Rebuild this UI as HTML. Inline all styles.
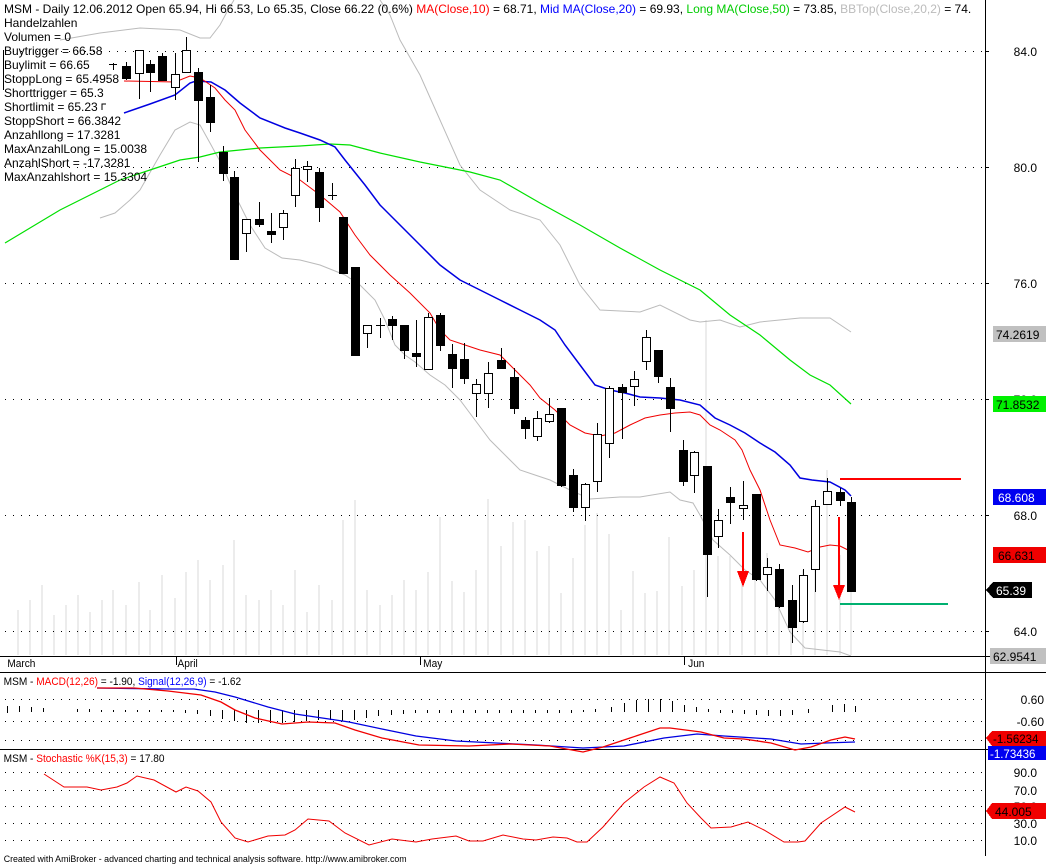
<!DOCTYPE html>
<html><head><meta charset="utf-8"><style>
html,body{margin:0;padding:0;background:#fff;}
svg{display:block;font-family:"Liberation Sans",sans-serif;}
</style></head><body>
<svg width="1046" height="865" viewBox="0 0 1046 865" xmlns="http://www.w3.org/2000/svg" shape-rendering="crispEdges">
<rect width="1046" height="865" fill="#fff"/>
<g fill="#ececec">
<rect x="17" y="610" width="2" height="45"/><rect x="29" y="600" width="2" height="55"/><rect x="41" y="585" width="2" height="70"/><rect x="53" y="615" width="2" height="40"/><rect x="65" y="605" width="2" height="50"/><rect x="77" y="595" width="2" height="60"/><rect x="89" y="612" width="2" height="43"/><rect x="101" y="600" width="2" height="55"/><rect x="112" y="590" width="2" height="65"/><rect x="125" y="605" width="2" height="50"/><rect x="138" y="582" width="2" height="73"/><rect x="149" y="610" width="2" height="45"/><rect x="161" y="575" width="2" height="80"/><rect x="174" y="598" width="2" height="57"/><rect x="185" y="572" width="2" height="83"/><rect x="197" y="560" width="2" height="95"/><rect x="209" y="580" width="2" height="75"/><rect x="222" y="565" width="2" height="90"/><rect x="233" y="540" width="2" height="115"/><rect x="245" y="595" width="2" height="60"/><rect x="258" y="600" width="2" height="55"/><rect x="270" y="590" width="2" height="65"/><rect x="282" y="605" width="2" height="50"/><rect x="294" y="570" width="2" height="85"/><rect x="306" y="612" width="2" height="43"/><rect x="318" y="585" width="2" height="70"/><rect x="331" y="600" width="2" height="55"/><rect x="342" y="520" width="2" height="135"/><rect x="354" y="500" width="2" height="155"/><rect x="366" y="590" width="2" height="65"/><rect x="379" y="605" width="2" height="50"/><rect x="391" y="595" width="2" height="60"/><rect x="403" y="580" width="2" height="75"/><rect x="415" y="590" width="2" height="65"/><rect x="427" y="572" width="2" height="83"/><rect x="439" y="517" width="2" height="138"/><rect x="451" y="581" width="2" height="74"/><rect x="463" y="592" width="2" height="63"/><rect x="475" y="570" width="2" height="85"/><rect x="487" y="499" width="2" height="156"/><rect x="500" y="546" width="2" height="109"/><rect x="512" y="522" width="2" height="133"/><rect x="524" y="520" width="2" height="135"/><rect x="536" y="551" width="2" height="104"/><rect x="548" y="546" width="2" height="109"/><rect x="560" y="593" width="2" height="62"/><rect x="572" y="558" width="2" height="97"/><rect x="584" y="525" width="2" height="130"/><rect x="596" y="513" width="2" height="142"/><rect x="608" y="534" width="2" height="121"/><rect x="620" y="610" width="2" height="45"/><rect x="632" y="571" width="2" height="84"/><rect x="644" y="593" width="2" height="62"/><rect x="656" y="591" width="2" height="64"/><rect x="668" y="537" width="2" height="118"/><rect x="681" y="586" width="2" height="69"/><rect x="693" y="570" width="2" height="85"/><rect x="705" y="320" width="2" height="335"/><rect x="717" y="556" width="2" height="99"/><rect x="729" y="556" width="2" height="99"/><rect x="741" y="580" width="2" height="75"/><rect x="754" y="560" width="2" height="95"/><rect x="766" y="553" width="2" height="102"/><rect x="778" y="582" width="2" height="73"/><rect x="790" y="600" width="2" height="55"/><rect x="802" y="570" width="2" height="85"/><rect x="814" y="560" width="2" height="95"/><rect x="826" y="470" width="2" height="185"/><rect x="839" y="555" width="2" height="100"/><rect x="850" y="550" width="2" height="105"/>
</g>
<g stroke="#000" stroke-dasharray="1 7" stroke-width="1">
<line x1="5" y1="51.5" x2="985" y2="51.5"/><line x1="5" y1="167.5" x2="985" y2="167.5"/><line x1="5" y1="283.5" x2="985" y2="283.5"/><line x1="5" y1="399.5" x2="985" y2="399.5"/><line x1="5" y1="515.5" x2="985" y2="515.5"/><line x1="5" y1="631.5" x2="985" y2="631.5"/>
<line x1="5" y1="699.5" x2="985" y2="699.5"/><line x1="5" y1="721.5" x2="985" y2="721.5"/><line x1="5" y1="740.5" x2="985" y2="740.5"/>
<line x1="5" y1="772.5" x2="985" y2="772.5"/><line x1="5" y1="790.5" x2="985" y2="790.5"/><line x1="5" y1="806.5" x2="985" y2="806.5"/><line x1="5" y1="823.5" x2="985" y2="823.5"/><line x1="5" y1="840.5" x2="985" y2="840.5"/>
</g>
<g fill="none" shape-rendering="auto">
<polyline stroke="#bbb" points="60,40 100,33 140,28 180,30 200,38 210,38 220,25 228,10 234,0"/>
<polyline stroke="#bbb" points="380,0 390,15 400,40 420,75 440,120 460,165 480,190 510,210 540,220 560,245 580,285 600,310 640,312 660,305 690,320 700,322 720,320 740,327 760,322 800,318 830,318 851,332"/>
<polyline stroke="#bbb" points="100,218 115,213 130,200 140,190 160,155 175,130 190,122 200,125 210,143 222,165 235,195 250,225 265,248 282,258 300,260 320,265 345,275 360,285 375,300 385,320 395,345 405,355 415,362 430,375 445,385 460,400 475,420 490,440 505,455 520,470 535,475 550,480 570,490 590,499 620,497 640,497 670,492 680,500 693,503 700,515 713,540 730,555 745,570 760,580 775,600 790,632 805,648 840,652 851,656"/>
<polyline stroke="#00e000" stroke-width="1.2" points="5,243 30,228 60,210 100,190 120,180 150,170 180,160 200,157 220,152 260,148 300,146 330,144 350,145 380,153 420,162 470,172 500,180 540,203 580,225 620,248 660,270 700,290 730,315 760,335 790,360 810,375 830,385 851,404"/>
<polyline stroke="#0000e0" stroke-width="1.5" points="124,113 150,104 175,95 190,83 196,81 211,82 225,90 240,103 260,118 285,128 300,133 320,140 335,147 345,160 365,185 380,205 400,225 420,245 440,265 460,280 480,290 500,300 520,310 540,320 555,330 565,345 580,365 595,385 610,390 625,393 640,397 660,398 680,400 700,405 715,418 730,425 745,433 760,443 775,452 790,465 800,478 812,480 830,482 845,490 851,496"/>
<polyline stroke="#f00000" points="124,81 175,82 190,76 200,78 215,88 225,100 235,110 245,130 260,150 280,170 300,180 320,195 340,212 355,235 370,255 390,275 410,293 430,313 440,330 450,340 465,345 480,350 500,355 515,370 530,385 540,398 555,410 570,425 585,433 600,436 615,433 630,425 645,418 660,415 675,413 690,412 700,415 710,425 720,430 735,440 742,450 750,470 760,490 770,520 780,545 795,548 808,552 820,547 830,545 840,546 848,550"/>
</g>
<g stroke="#000" stroke-width="1">
<line x1="109" y1="64.5" x2="117" y2="64.5"/><line x1="113.5" y1="63" x2="113.5" y2="70"/>
<line x1="126.5" y1="62" x2="126.5" y2="80"/><rect x="122.5" y="66.5" width="8" height="12" fill="#000"/>
<line x1="139.5" y1="50" x2="139.5" y2="99"/><rect x="135.5" y="50.5" width="8" height="23" fill="#fff"/>
<line x1="150.5" y1="60" x2="150.5" y2="92"/><rect x="146.5" y="64.5" width="8" height="8" fill="#000"/>
<line x1="162.5" y1="53" x2="162.5" y2="80"/><rect x="158.5" y="56.5" width="8" height="24" fill="#000"/>
<line x1="175.5" y1="53" x2="175.5" y2="100"/><rect x="171.5" y="74.5" width="8" height="13" fill="#fff"/>
<line x1="186.5" y1="37" x2="186.5" y2="72"/><rect x="182.5" y="50.5" width="8" height="22" fill="#fff"/>
<line x1="198.5" y1="68" x2="198.5" y2="162"/><rect x="194.5" y="72.5" width="8" height="28" fill="#000"/>
<line x1="210.5" y1="85" x2="210.5" y2="132"/><rect x="206.5" y="97.5" width="8" height="25" fill="#000"/>
<line x1="223.5" y1="146" x2="223.5" y2="181"/><rect x="219.5" y="152.5" width="8" height="21" fill="#000"/>
<line x1="234.5" y1="171" x2="234.5" y2="259"/><rect x="230.5" y="177.5" width="8" height="82" fill="#000"/>
<line x1="246.5" y1="219" x2="246.5" y2="252"/><rect x="242.5" y="219.5" width="8" height="14" fill="#fff"/>
<line x1="259.5" y1="202" x2="259.5" y2="227"/><rect x="255.5" y="219.5" width="8" height="5" fill="#000"/>
<line x1="271.5" y1="213" x2="271.5" y2="243"/><rect x="267.5" y="231.5" width="8" height="3" fill="#000"/>
<line x1="283.5" y1="210" x2="283.5" y2="240"/><rect x="279.5" y="213.5" width="8" height="14" fill="#fff"/>
<line x1="295.5" y1="159" x2="295.5" y2="207"/><rect x="291.5" y="168.5" width="8" height="27" fill="#fff"/>
<line x1="307.5" y1="161" x2="307.5" y2="182"/><rect x="303.5" y="166.5" width="8" height="3" fill="#fff"/>
<line x1="319.5" y1="168" x2="319.5" y2="222"/><rect x="315.5" y="172.5" width="8" height="35" fill="#000"/>
<line x1="332.5" y1="183" x2="332.5" y2="200"/><line x1="328" y1="195.5" x2="337" y2="195.5"/>
<line x1="343.5" y1="217" x2="343.5" y2="273"/><rect x="339.5" y="217.5" width="8" height="56" fill="#000"/>
<line x1="355.5" y1="267" x2="355.5" y2="355"/><rect x="351.5" y="267.5" width="8" height="88" fill="#000"/>
<line x1="367.5" y1="325" x2="367.5" y2="348"/><rect x="363.5" y="325.5" width="8" height="8" fill="#fff"/>
<line x1="380.5" y1="318" x2="380.5" y2="338"/><line x1="376" y1="325.5" x2="385" y2="325.5"/>
<line x1="392.5" y1="316" x2="392.5" y2="340"/><rect x="388.5" y="319.5" width="8" height="6" fill="#000"/>
<line x1="404.5" y1="325" x2="404.5" y2="359"/><rect x="400.5" y="325.5" width="8" height="25" fill="#000"/>
<line x1="416.5" y1="320" x2="416.5" y2="367"/><rect x="412.5" y="353.5" width="8" height="3" fill="#000"/>
<line x1="428.5" y1="313" x2="428.5" y2="369"/><rect x="424.5" y="317.5" width="8" height="52" fill="#fff"/>
<line x1="440.5" y1="313" x2="440.5" y2="351"/><rect x="436.5" y="315.5" width="8" height="30" fill="#000"/>
<line x1="452.5" y1="344" x2="452.5" y2="388"/><rect x="448.5" y="354.5" width="8" height="14" fill="#000"/>
<line x1="464.5" y1="343" x2="464.5" y2="384"/><rect x="460.5" y="359.5" width="8" height="19" fill="#000"/>
<line x1="476.5" y1="379" x2="476.5" y2="417"/><rect x="472.5" y="384.5" width="8" height="9" fill="#fff"/>
<line x1="488.5" y1="362" x2="488.5" y2="408"/><rect x="484.5" y="373.5" width="8" height="20" fill="#fff"/>
<line x1="501.5" y1="348" x2="501.5" y2="368"/><rect x="497.5" y="360.5" width="8" height="8" fill="#000"/>
<line x1="514.5" y1="368" x2="514.5" y2="414"/><rect x="510.5" y="377.5" width="8" height="31" fill="#000"/>
<line x1="525.5" y1="417" x2="525.5" y2="439"/><rect x="521.5" y="420.5" width="8" height="8" fill="#000"/>
<line x1="537.5" y1="411" x2="537.5" y2="441"/><rect x="533.5" y="418.5" width="8" height="18" fill="#fff"/>
<line x1="549.5" y1="398" x2="549.5" y2="423"/><rect x="545.5" y="414.5" width="8" height="7" fill="#fff"/>
<line x1="561.5" y1="408" x2="561.5" y2="487"/><rect x="557.5" y="408.5" width="8" height="77" fill="#000"/>
<line x1="573.5" y1="469" x2="573.5" y2="512"/><rect x="569.5" y="475.5" width="8" height="32" fill="#000"/>
<line x1="585.5" y1="483" x2="585.5" y2="521"/><rect x="581.5" y="484.5" width="8" height="23" fill="#fff"/>
<line x1="597.5" y1="423" x2="597.5" y2="492"/><rect x="593.5" y="434.5" width="8" height="47" fill="#fff"/>
<line x1="609.5" y1="386" x2="609.5" y2="458"/><rect x="605.5" y="388.5" width="8" height="55" fill="#fff"/>
<line x1="622.5" y1="384" x2="622.5" y2="439"/><rect x="618.5" y="387.5" width="8" height="5" fill="#000"/>
<line x1="634.5" y1="371" x2="634.5" y2="406"/><rect x="630.5" y="379.5" width="8" height="7" fill="#fff"/>
<line x1="646.5" y1="330" x2="646.5" y2="370"/><rect x="642.5" y="337.5" width="8" height="24" fill="#fff"/>
<line x1="658.5" y1="350" x2="658.5" y2="383"/><rect x="654.5" y="350.5" width="8" height="26" fill="#000"/>
<line x1="670.5" y1="378" x2="670.5" y2="432"/><rect x="666.5" y="387.5" width="8" height="21" fill="#000"/>
<line x1="683.5" y1="440" x2="683.5" y2="486"/><rect x="679.5" y="450.5" width="8" height="31" fill="#000"/>
<line x1="694.5" y1="451" x2="694.5" y2="493"/><rect x="690.5" y="452.5" width="8" height="23" fill="#fff"/>
<line x1="707.5" y1="466" x2="707.5" y2="597"/><rect x="703.5" y="466.5" width="8" height="88" fill="#000"/>
<line x1="718.5" y1="509" x2="718.5" y2="548"/><rect x="714.5" y="520.5" width="8" height="16" fill="#fff"/>
<line x1="730.5" y1="487" x2="730.5" y2="524"/><rect x="726.5" y="497.5" width="8" height="5" fill="#000"/>
<line x1="743.5" y1="481" x2="743.5" y2="520"/><rect x="739.5" y="505.5" width="8" height="3" fill="#fff"/>
<line x1="756.5" y1="494" x2="756.5" y2="581"/><rect x="752.5" y="494.5" width="8" height="85" fill="#000"/>
<line x1="767.5" y1="558" x2="767.5" y2="591"/><rect x="763.5" y="567.5" width="8" height="7" fill="#fff"/>
<line x1="779.5" y1="564" x2="779.5" y2="608"/><rect x="775.5" y="569.5" width="8" height="37" fill="#000"/>
<line x1="792.5" y1="585" x2="792.5" y2="643"/><rect x="788.5" y="600.5" width="8" height="27" fill="#000"/>
<line x1="803.5" y1="569" x2="803.5" y2="623"/><rect x="799.5" y="575.5" width="8" height="46" fill="#fff"/>
<line x1="815.5" y1="500" x2="815.5" y2="592"/><rect x="811.5" y="506.5" width="8" height="63" fill="#fff"/>
<line x1="827.5" y1="478" x2="827.5" y2="504"/><rect x="823.5" y="491.5" width="8" height="13" fill="#fff"/>
<line x1="840.5" y1="488" x2="840.5" y2="506"/><rect x="836.5" y="492.5" width="8" height="8" fill="#000"/>
<line x1="851.5" y1="497" x2="851.5" y2="592"/><rect x="847.5" y="502.5" width="8" height="89" fill="#000"/>
</g>
<rect x="840" y="478" width="121" height="2" fill="#f00"/>
<rect x="840" y="603" width="108" height="2" fill="#00b070"/>
<rect x="742" y="532" width="2" height="42" fill="#f00"/>
<polygon points="737,571 749,571 743,587" fill="#f00"/>
<rect x="838" y="517" width="2" height="68" fill="#f00"/>
<polygon points="833,585 845,585 839,600" fill="#f00"/>
<line x1="3.5" y1="50" x2="3.5" y2="90" stroke="#000"/>
<g stroke="#000" stroke-width="1">
<line x1="985.5" y1="0" x2="985.5" y2="856"/>
<line x1="0" y1="656.5" x2="1046" y2="656.5"/>
<line x1="0" y1="672.5" x2="1046" y2="672.5"/>
<line x1="0" y1="749.5" x2="1046" y2="749.5"/>
<line x1="985" y1="51.5" x2="989" y2="51.5"/><line x1="985" y1="167.5" x2="989" y2="167.5"/><line x1="985" y1="283.5" x2="989" y2="283.5"/><line x1="985" y1="399.5" x2="989" y2="399.5"/><line x1="985" y1="515.5" x2="989" y2="515.5"/><line x1="985" y1="631.5" x2="989" y2="631.5"/>
<line x1="176.5" y1="656" x2="176.5" y2="665"/><line x1="420.5" y1="656" x2="420.5" y2="665"/><line x1="684.5" y1="656" x2="684.5" y2="665"/>
</g>
<g stroke="#000">
<line x1="7.5" y1="706" x2="7.5" y2="713"/><line x1="19.5" y1="706" x2="19.5" y2="712"/><line x1="31.5" y1="707" x2="31.5" y2="712"/><line x1="43.5" y1="708" x2="43.5" y2="712"/><line x1="77.5" y1="709" x2="77.5" y2="712"/><line x1="89.5" y1="709" x2="89.5" y2="712"/><line x1="101.5" y1="710" x2="101.5" y2="712"/><line x1="113.5" y1="710" x2="113.5" y2="712"/><line x1="125.5" y1="710" x2="125.5" y2="712"/><line x1="137.5" y1="710" x2="137.5" y2="712"/><line x1="149.5" y1="710" x2="149.5" y2="712"/><line x1="161.5" y1="710" x2="161.5" y2="712"/><line x1="173.5" y1="710" x2="173.5" y2="712"/><line x1="185.5" y1="710" x2="185.5" y2="713"/><line x1="197.5" y1="710" x2="197.5" y2="714"/><line x1="210.5" y1="710" x2="210.5" y2="716"/><line x1="222.5" y1="710" x2="222.5" y2="719"/><line x1="234.5" y1="710" x2="234.5" y2="721"/><line x1="246.5" y1="710" x2="246.5" y2="723"/><line x1="258.5" y1="710" x2="258.5" y2="723"/><line x1="270.5" y1="710" x2="270.5" y2="723"/><line x1="282.5" y1="710" x2="282.5" y2="723"/><line x1="294.5" y1="710" x2="294.5" y2="722"/><line x1="306.5" y1="710" x2="306.5" y2="721"/><line x1="318.5" y1="710" x2="318.5" y2="720"/><line x1="330.5" y1="710" x2="330.5" y2="720"/><line x1="342.5" y1="710" x2="342.5" y2="721"/><line x1="354.5" y1="710" x2="354.5" y2="720"/><line x1="366.5" y1="710" x2="366.5" y2="718"/><line x1="378.5" y1="710" x2="378.5" y2="716"/><line x1="391.5" y1="710" x2="391.5" y2="715"/><line x1="403.5" y1="710" x2="403.5" y2="714"/><line x1="415.5" y1="710" x2="415.5" y2="713"/><line x1="427.5" y1="710" x2="427.5" y2="713"/><line x1="439.5" y1="710" x2="439.5" y2="713"/><line x1="451.5" y1="710" x2="451.5" y2="713"/><line x1="463.5" y1="710" x2="463.5" y2="713"/><line x1="475.5" y1="710" x2="475.5" y2="713"/><line x1="487.5" y1="710" x2="487.5" y2="713"/><line x1="499.5" y1="710" x2="499.5" y2="713"/><line x1="511.5" y1="710" x2="511.5" y2="713"/><line x1="523.5" y1="710" x2="523.5" y2="713"/><line x1="535.5" y1="710" x2="535.5" y2="713"/><line x1="547.5" y1="710" x2="547.5" y2="713"/><line x1="559.5" y1="710" x2="559.5" y2="713"/><line x1="571.5" y1="710" x2="571.5" y2="713"/><line x1="583.5" y1="710" x2="583.5" y2="712"/><line x1="595.5" y1="709" x2="595.5" y2="712"/><line x1="611.5" y1="707" x2="611.5" y2="712"/><line x1="624.5" y1="703" x2="624.5" y2="712"/><line x1="636.5" y1="700" x2="636.5" y2="712"/><line x1="648.5" y1="699" x2="648.5" y2="712"/><line x1="660.5" y1="699" x2="660.5" y2="712"/><line x1="672.5" y1="701" x2="672.5" y2="712"/><line x1="684.5" y1="705" x2="684.5" y2="712"/><line x1="696.5" y1="707" x2="696.5" y2="712"/><line x1="708.5" y1="709" x2="708.5" y2="712"/><line x1="720.5" y1="710" x2="720.5" y2="713"/><line x1="732.5" y1="710" x2="732.5" y2="713"/><line x1="744.5" y1="710" x2="744.5" y2="714"/><line x1="756.5" y1="710" x2="756.5" y2="715"/><line x1="768.5" y1="710" x2="768.5" y2="716"/><line x1="780.5" y1="710" x2="780.5" y2="716"/><line x1="792.5" y1="710" x2="792.5" y2="715"/><line x1="808.5" y1="709" x2="808.5" y2="713"/><line x1="832.5" y1="705" x2="832.5" y2="712"/><line x1="844.5" y1="704" x2="844.5" y2="712"/><line x1="855.5" y1="706" x2="855.5" y2="712"/>
</g>
<g fill="none" shape-rendering="auto" stroke-width="1.3">
<polyline stroke="#0000e0" points="97,688 168,689 194,689 215,692 235,697 268,707 295,714 329,719 349,722 382,729 416,736 456,741 496,743 536,745 583,748 624,746 664,738 697,734 724,736 771,739 801,744 825,743 855,742"/>
<polyline stroke="#f00000" points="97,688 134,688 168,691 201,695 221,702 235,710 255,718 282,724 308,722 335,723 355,730 382,738 419,745 469,746 510,744 550,746 583,752 603,747 630,738 660,728 670,728 701,732 724,738 744,739 771,743 795,750 811,747 831,740 845,737 855,739"/>
<polyline stroke="#f00000" stroke-width="1" points="44,774 64,787 87,787 101,790 117,787 127,783 137,776 154,780 176,792 186,787 198,791 211,802 221,822 235,838 248,842 268,836 285,835 295,830 308,819 329,821 345,833 369,845 392,839 416,842 432,839 456,836 469,841 483,841 503,835 523,839 536,840 553,837 567,838 577,842 587,842 603,827 624,803 644,787 660,777 674,783 687,803 701,818 711,828 731,827 748,822 764,830 784,842 798,842 805,841 821,823 845,807 855,812"/>
</g>
<g font-size="12" fill="#000">
<text x="4" y="13">MSM - Daily 12.06.2012 Open 65.94, Hi 66.53, Lo 65.35, Close 66.22 (0.6%) <tspan fill="#f00">MA(Close,10)</tspan> = 68.71, <tspan fill="#00f">Mid MA(Close,20)</tspan> = 69.93, <tspan fill="#0c0">Long MA(Close,50)</tspan> = 73.85, <tspan fill="#bbb">BBTop(Close,20,2)</tspan> = 74.</text>
<text x="4" y="27">Handelzahlen</text>
<text x="4" y="41">Volumen = 0</text>
<text x="4" y="55">Buytrigger = 66.58</text>
<text x="4" y="69">Buylimit = 66.65</text>
<text x="4" y="83">StoppLong = 65.4958</text>
<text x="4" y="97">Shorttrigger = 65.3</text>
<text x="4" y="111">Shortlimit = 65.23</text>
<text x="4" y="125">StoppShort = 66.3842</text>
<text x="4" y="139">Anzahllong = 17.3281</text>
<text x="4" y="153">MaxAnzahlLong = 15.0038</text>
<text x="4" y="167">AnzahlShort = -17.3281</text>
<text x="4" y="181">MaxAnzahlshort = 15.3304</text>
</g>
<polyline points="102,110 102,104 106,104" fill="none" stroke="#000"/>
<g font-size="12" fill="#000" text-anchor="end">
<text x="1037" y="56">84.0</text><text x="1037" y="172">80.0</text><text x="1037" y="288">76.0</text><text x="1037" y="404">72.0</text><text x="1037" y="520">68.0</text><text x="1037" y="636">64.0</text>
<text x="1044" y="704">0.60</text><text x="1044" y="726">-0.60</text>
<text x="1037" y="777">90.0</text><text x="1037" y="795">70.0</text><text x="1037" y="811">50.0</text><text x="1037" y="828">30.0</text><text x="1037" y="845">10.0</text>
</g>
<g font-size="12">
<rect x="993" y="326" width="53" height="16" fill="#c0c0c0"/><text x="996" y="339" fill="#000">74.2619</text>
<rect x="993" y="396" width="53" height="16" fill="#00f000"/><text x="996" y="409" fill="#000">71.8532</text>
<rect x="993" y="489" width="53" height="16" fill="#0000f0"/><text x="998" y="502" fill="#fff">68.608</text>
<rect x="993" y="547" width="53" height="16" fill="#f00000"/><text x="998" y="560" fill="#000">66.631</text>
<polygon points="986,590 993,582 1032,582 1032,598 993,598" fill="#000"/><text x="996" y="595" fill="#fff">65.39</text>
<rect x="990" y="648" width="56" height="16" fill="#c0c0c0"/><text x="993" y="661" fill="#000">62.9541</text>
<polygon points="986,738 992,731 1046,731 1046,746 992,746" fill="#f00000"/><text x="993" y="743" fill="#000" font-size="11.5">-1.56234</text>
<rect x="988" y="746" width="58" height="14" fill="#0000f0"/><text x="990" y="758" fill="#fff" font-size="11.5">-1.73436</text>
<polygon points="986,811 992,803 1046,803 1046,819 992,819" fill="#f00000"/><text x="995" y="816" fill="#000">44.005</text>
</g>
<g font-size="11" fill="#000" transform="scale(0.92,1)">
<text x="8" y="667">March</text><text x="193" y="667">April</text><text x="460" y="667">May</text><text x="748" y="667">Jun</text>
<text x="4" y="685">MSM - <tspan fill="#f00">MACD(12,26)</tspan> = -1.90, <tspan fill="#00f">Signal(12,26,9)</tspan> = -1.62</text>
<text x="4" y="762">MSM - <tspan fill="#f00">Stochastic %K(15,3)</tspan> = 17.80</text>
</g>
<text x="4" y="862" font-size="9.5" fill="#000" transform="scale(0.93,1)">Created with AmiBroker - advanced charting and technical analysis software. http://www.amibroker.com</text>
</svg>
</body></html>
